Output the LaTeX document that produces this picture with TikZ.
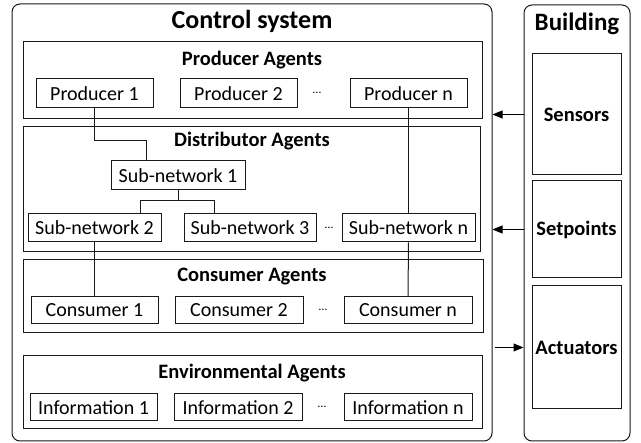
\documentclass[tikz,border=0pt]{standalone}
\usepackage{fontspec}
\setmainfont{Carlito}
\usetikzlibrary{arrows.meta,positioning,calc}
\begin{document}
\begin{tikzpicture}[x=1pt,y=-1pt,
  line width=1pt, draw=black!90,
  outer/.style={draw=black!90,rounded corners=8pt,inner sep=0pt},
  group/.style={draw=black!90,inner sep=0pt},
  agent/.style={draw=black!90,inner sep=0pt,font=\fontsize{20}{22}\selectfont},
  gtitle/.style={font=\fontsize{20.5}{23}\selectfont\bfseries,inner sep=0pt},
  bigtitle/.style={font=\fontsize{26}{30}\selectfont\bfseries,inner sep=0pt},
  btitle/.style={font=\fontsize{25}{28}\selectfont\bfseries,inner sep=0pt},
  dots/.style={font=\fontsize{12}{14}\selectfont,inner sep=0pt},
  conn/.style={line width=1pt,draw=black!90},
  arr/.style={line width=1pt,draw=black,-{Triangle[length=10pt,width=8pt]}}
]
\useasboundingbox (0,0) rectangle (641,443);
% outer boxes
\node[outer,minimum width=480pt,minimum height=437pt] (ctrl) at (252,222.5) {};
\node[outer,minimum width=106pt,minimum height=436pt] (bld) at (577,223) {};
\node[bigtitle] (ctrlt) at (252,21) {Control system};
\node[btitle] (bldt) at (577,24) {Building};
% groups
\node[group,minimum width=459pt,minimum height=77pt] (pg) at (252.5,80.5) {};
\node[group,minimum width=457pt,minimum height=125pt] (dg) at (251.5,189.5) {};
\node[group,minimum width=460pt,minimum height=73pt] (cg) at (253,296.5) {};
\node[group,minimum width=459pt,minimum height=73pt] (eg) at (252.5,392.5) {};
\node[gtitle] (pgt) at (252,60) {Producer Agents};
\node[gtitle] (dgt) at (252,141) {Distributor Agents};
\node[gtitle] (cgt) at (252,277) {Consumer Agents};
\node[gtitle] (egt) at (252,373) {Environmental Agents};
% producers
\node[agent,minimum width=117pt,minimum height=29pt] (p1) at (94.5,93.5) {Producer 1};
\node[agent,minimum width=117pt,minimum height=29pt] (p2) at (238.5,93.5) {Producer 2};
\node[dots] (pd) at (317,93) {\dots};
\node[agent,minimum width=117pt,minimum height=29pt] (pn) at (408.5,93.5) {Producer n};
% sub-networks
\node[agent,minimum width=134pt,minimum height=29pt] (s1) at (178,175.5) {Sub-network 1};
\node[agent,minimum width=133pt,minimum height=28pt] (s2) at (94.5,228) {Sub-network 2};
\node[agent,minimum width=132pt,minimum height=28pt] (s3) at (250,228) {Sub-network 3};
\node[dots] (sd) at (329,228) {\dots};
\node[agent,minimum width=133pt,minimum height=28pt] (sn) at (408.5,228) {Sub-network n};
% consumers
\node[agent,minimum width=127pt,minimum height=27pt] (c1) at (94.5,310.5) {Consumer 1};
\node[agent,minimum width=128pt,minimum height=27pt] (c2) at (239,310.5) {Consumer 2};
\node[dots] (cd) at (323,310) {\dots};
\node[agent,minimum width=128pt,minimum height=27pt] (cn) at (408,310.5) {Consumer n};
% information
\node[agent,minimum width=127pt,minimum height=27pt] (i1) at (93.5,407.5) {Information 1};
\node[agent,minimum width=128pt,minimum height=27pt] (i2) at (238,407.5) {Information 2};
\node[dots] (id) at (322,407) {\dots};
\node[agent,minimum width=128pt,minimum height=27pt] (in) at (408,407.5) {Information n};
% building parts
\node[group,minimum width=89pt,minimum height=121pt,font=\fontsize{20.5}{23}\selectfont\bfseries] (sens) at (576.5,114.5) {Sensors};
\node[group,minimum width=89pt,minimum height=97pt,font=\fontsize{20.5}{23}\selectfont\bfseries] (setp) at (576.5,229.5) {Setpoints};
\node[group,minimum width=89pt,minimum height=123pt,font=\fontsize{20.5}{23}\selectfont\bfseries] (act) at (576.5,347.5) {Actuators};
% connectors
\draw[conn] (p1.south) -- ++(0,32) -| ([xshift=-32pt]s1.north);
\draw[conn] (s1.south) -- ++(0,10) coordinate (sj) -| ([xshift=-21pt]s2.north east);
\draw[conn] (sj) -| ([xshift=31pt]s3.north west);
\draw[conn] (pn.south) -- (sn.north);
\draw[conn] (s2.south) -- (c1.north);
\draw[conn] (sn.south) -- (cn.north);
% arrows
\draw[arr] (bld.west |- sens.west) -- (ctrl.east |- sens.west);
\draw[arr] (bld.west |- setp.west) -- (ctrl.east |- setp.west);
\draw[arr] ([xshift=2pt]ctrl.east |- act.west) -- (bld.west |- act.west);
\end{tikzpicture}
\end{document}
